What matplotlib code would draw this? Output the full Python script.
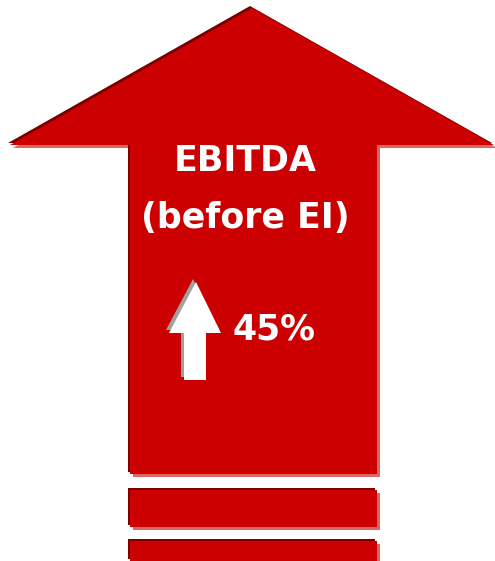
import matplotlib
matplotlib.use("Agg")
import matplotlib.pyplot as plt
from matplotlib.patches import Polygon

title_lines = ["EBITDA", "(before EI)"]
change_pct = 45

red = "#cc0000"
dark = "#7a0000"
pink = "#e06666"

fig = plt.figure(figsize=(4.95, 5.61), dpi=100)
ax = fig.add_axes([0, 0, 1, 1])
ax.set_xlim(0, 495)
ax.set_ylim(561, 0)
ax.axis("off")


def shape(pts, dx, dy, color, z):
    p = Polygon([(x + dx, y + dy) for x, y in pts], closed=True,
                facecolor=color, edgecolor="none", zorder=z)
    ax.add_patch(p)


# big arrow outline
big = [(252, 8), (494, 145), (377, 145), (377, 474), (130, 474),
       (130, 145), (10, 145)]
shape(big, 3, 3, pink, 1)
shape(big, -2, -2, dark, 2)
shape(big, 0, 0, red, 3)

# two bars under the arrow
for top, bottom in [(490, 527), (541, 561)]:
    bar = [(130, top), (377, top), (377, bottom), (130, bottom)]
    shape(bar, 3, 3, pink, 1)
    shape(bar, -2, -2, dark, 2)
    shape(bar, 0, 0, red, 3)

# small white arrow
small = [(196, 282), (221, 333), (206, 333), (206, 380), (184, 380),
         (184, 333), (169, 333)]
shape(small, -3, -3, "#a0a0a0", 4)
shape(small, 0, 0, "white", 5)

ax.text(245, 161, title_lines[0], color="white", fontsize=25,
        fontweight="bold", family="DejaVu Sans", ha="center", va="center", zorder=6)
ax.text(245, 218, title_lines[1], color="white", fontsize=25,
        fontweight="bold", family="DejaVu Sans", ha="center", va="center", zorder=6)
ax.text(232, 329, f"{change_pct}%", color="white", fontsize=25,
        fontweight="bold", family="DejaVu Sans", ha="left", va="center", zorder=6)

fig.savefig("out.png", dpi=100)
